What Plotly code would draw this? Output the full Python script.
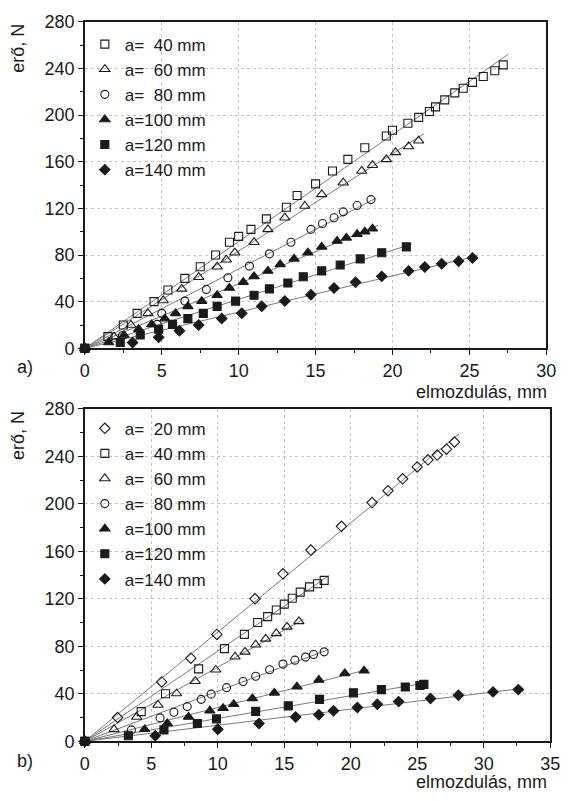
import numpy as np
import plotly.graph_objects as go

# ---------------- data: panel a) ----------------
a40_x = [0, 1.5, 2.5, 3.4, 4.5, 5.4, 6.5, 7.5, 8.5, 9.4, 10.0, 10.8, 11.8, 13.1, 13.8, 15.0, 16.1, 17.1, 18.2,
         19.6, 20.0, 21.0, 21.7, 22.4, 22.8, 23.4, 24.05, 24.6, 25.2, 25.9, 26.65, 27.2]
a40_y = [0, 10, 20, 30, 40, 50, 60, 70, 80, 91, 96, 102, 111, 121, 131, 141, 152, 162, 172,
         182, 187, 193, 198, 203, 207, 213, 219, 223, 228, 233, 238, 243]
a60_x = [0, 1.9, 3.0, 4.1, 5.1, 6.3, 7.4, 8.6, 9.2, 9.75, 11.0, 11.9, 13.0, 14.3, 15.4, 16.8, 18.0, 18.7,
         19.6, 20.2, 21.05, 21.7]
a60_y = [0, 10, 20, 30, 41, 51, 61, 70, 76, 82, 91, 102, 112, 122, 132, 142, 152, 157, 162, 168, 173, 178]
a80_x = [0, 2.45, 4.7, 5.0, 6.5, 7.9, 9.3, 10.7, 12.0, 13.4, 14.7, 15.45, 16.2, 16.8, 17.7, 18.6]
a80_y = [0, 11, 20.5, 30, 40.5, 50.5, 60.5, 70.5, 81, 91, 102, 107, 112, 117, 122.5, 127.5]
a100_x = [0, 1.55, 2.55, 3.5, 4.35, 5.2, 5.9, 6.7, 7.6, 8.6, 9.4, 10.3, 11.0, 11.9, 12.7, 13.6, 14.5, 15.4,
          16.4, 17.0, 17.7, 18.2, 18.7]
a100_y = [0, 5, 11.4, 16.4, 20.5, 25.5, 30, 36, 40.5, 45.5, 51.7, 56.7, 61.7, 66.4, 72, 76.7, 82, 87,
          92, 94.7, 97.8, 100, 102.5]
a120_x = [0, 2.3, 3.6, 4.8, 5.7, 6.7, 7.7, 8.6, 9.8, 11.0, 12.0, 13.2, 14.2, 15.4, 16.6, 17.9, 19.3, 20.9]
a120_y = [0, 5, 11.4, 16.4, 20.5, 25.5, 30, 36, 40.5, 45.5, 51, 56, 61.4, 66.4, 71.4, 76.7, 82, 87]
a140_x = [0, 3.1, 4.8, 6.15, 7.4, 8.9, 10.2, 11.5, 13.0, 14.7, 16.2, 17.6, 19.3, 21.05, 22.1, 23.2, 24.3, 25.2]
a140_y = [0, 5, 9.4, 15, 20, 25.5, 30, 36, 40.5, 46, 51.7, 56.7, 61.7, 66.4, 69.7, 72.5, 74.7, 77.5]

# ---------------- data: panel b) ----------------
b20_x = [0, 2.46, 5.78, 7.97, 9.93, 12.8, 14.9, 17.0, 19.3, 21.6, 22.8, 23.9, 25.0, 25.8, 26.5, 27.2, 27.8]
b20_y = [0, 20, 50, 70, 90, 120, 141, 161, 181, 201, 211, 221, 231, 237, 241, 246, 252]
b40_x = [0, 4.24, 6.07, 8.56, 10.5, 12.0, 13.0, 13.75, 14.4, 15.0, 15.6, 16.2, 16.9, 17.5, 18.0]
b40_y = [0, 25, 40, 61, 78, 90, 100, 105, 110.5, 115.5, 120.4, 125.6, 130, 132.7, 135.5]
b60_x = [0, 2.2, 3.9, 5.5, 6.9, 8.3, 9.85, 11.3, 12.05, 12.85, 13.6, 14.4, 15.2, 16.1]
b60_y = [0, 10, 20.5, 30.6, 40.2, 50.6, 60.2, 71.2, 75.3, 81.3, 86.2, 90.9, 96.3, 101]
b80_x = [0, 3.5, 5.66, 6.7, 7.7, 8.75, 9.5, 10.66, 11.9, 12.85, 13.9, 14.9, 15.8, 16.6, 17.2, 18.0]
b80_y = [0, 9.6, 19.7, 24.4, 29.2, 35.3, 39.7, 45.2, 50.3, 54.7, 60.2, 65, 68.3, 70.9, 73.1, 75.3]
b100_x = [0, 4.5, 6.2, 7.8, 9.4, 10.4, 11.2, 12.6, 14.25, 15.95, 17.6, 19.55, 21.0]
b100_y = [0, 10.1, 15, 20.5, 25.7, 27.9, 31.2, 36.1, 40.8, 46, 51.7, 57.2, 59.4]
b120_x = [0, 3.27, 5.95, 8.46, 9.9, 12.85, 15.3, 17.65, 20.2, 22.3, 24.1, 25.2, 25.5]
b120_y = [0, 4.7, 9.6, 15, 18.9, 25.2, 29.8, 35.3, 40.8, 43.5, 45.7, 47, 47.9]
b140_x = [0, 5.3, 10.0, 13.1, 15.85, 17.6, 18.7, 20.5, 22.0, 23.6, 26.0, 28.1, 30.7, 32.6]
b140_y = [0, 4.7, 10.1, 15, 20.4, 22.4, 25.7, 28.5, 31.2, 33.4, 36.1, 38.8, 41.6, 43.5]

labels_a = ["a=\u200740 mm", "a=\u200760 mm", "a=\u200780 mm", "a=100 mm", "a=120 mm", "a=140 mm"]
labels_b = ["a=\u200720 mm", "a=\u200740 mm", "a=\u200760 mm", "a=\u200780 mm", "a=100 mm", "a=120 mm", "a=140 mm"]

series_a = [(a40_x, a40_y), (a60_x, a60_y), (a80_x, a80_y), (a100_x, a100_y), (a120_x, a120_y), (a140_x, a140_y)]
series_b = [(b20_x, b20_y), (b40_x, b40_y), (b60_x, b60_y), (b80_x, b80_y), (b100_x, b100_y),
            (b120_x, b120_y), (b140_x, b140_y)]

symbols_a = ["square-open", "triangle-up-open", "circle-open", "triangle-up", "square", "diamond"]
symbols_b = ["diamond-open", "square-open", "triangle-up-open", "circle-open", "triangle-up", "square", "diamond"]

W, H = 568, 801
FONT = "Liberation Sans, Arial, sans-serif"
INK = "#1a1a1a"
LINE = "#7a7a7a"

fig = go.Figure()


def add_panel(series, labels, symbols, xa, ya, legend):
    # fitted lines through origin
    for (xs, ys) in series:
        x = np.array(xs, float)
        y = np.array(ys, float)
        k = float((x * y).sum() / (x * x).sum())
        xe = np.array([0.0, x.max() + 0.35])
        fig.add_trace(go.Scatter(x=xe, y=k * xe, mode="lines", xaxis=xa, yaxis=ya,
                                 line=dict(color=LINE, width=1), showlegend=False, hoverinfo="skip"))
    for (xs, ys), lab, sym in zip(series, labels, symbols):
        size = 9 if "triangle" in sym else 8
        fig.add_trace(go.Scatter(x=xs, y=ys, mode="markers", name=lab, xaxis=xa, yaxis=ya,
                                 legend=legend, cliponaxis=False,
                                 marker=dict(symbol=sym, size=size, color=INK,
                                             line=dict(color=INK, width=1.1))))


add_panel(series_a, labels_a, symbols_a, "x", "y", "legend")
add_panel(series_b, labels_b, symbols_b, "x2", "y2", "legend2")


def px_x(p):
    return p / W


def px_y(p):
    return 1 - p / H


axis_common = dict(
    showline=True, linecolor=INK, linewidth=1.5, mirror=True,
    ticks="outside", ticklen=5, tickwidth=1.2, tickcolor=INK,
    showgrid=True, gridcolor="#c4c4c4", griddash="dot", gridwidth=1,
    zeroline=False, tickfont=dict(family=FONT, size=18, color=INK),
)

fig.update_layout(
    width=W, height=H, autosize=False,
    margin=dict(l=0, r=0, t=0, b=0),
    paper_bgcolor="white", plot_bgcolor="white",
    font=dict(family=FONT, size=18, color=INK),
    xaxis=dict(domain=[px_x(82), px_x(556)], range=[0, 30], dtick=5, anchor="y",
               minor=dict(dtick=2.5, ticks="outside", ticklen=3, tickcolor=INK, showgrid=False),
               **axis_common),
    yaxis=dict(domain=[px_y(347), px_y(12)], range=[0, 280], dtick=40, anchor="x",
               minor=dict(dtick=20, ticks="outside", ticklen=3, tickcolor=INK, showgrid=False),
               **axis_common),
    xaxis2=dict(domain=[px_x(82), px_x(560)], range=[0, 35], dtick=5, anchor="y2",
                minor=dict(dtick=2.5, ticks="outside", ticklen=3, tickcolor=INK, showgrid=False),
                **axis_common),
    yaxis2=dict(domain=[px_y(750), px_y(409)], range=[0, 280], dtick=40, anchor="x2",
                minor=dict(dtick=20, ticks="outside", ticklen=3, tickcolor=INK, showgrid=False),
                **axis_common),
    legend=dict(x=px_x(82), y=px_y(17), xanchor="left", yanchor="top", bgcolor="rgba(0,0,0,0)",
                font=dict(family=FONT, size=17, color=INK), tracegroupgap=0, itemwidth=30),
    legend2=dict(x=px_x(82), y=px_y(411), xanchor="left", yanchor="top", bgcolor="rgba(0,0,0,0)",
                 font=dict(family=FONT, size=17, color=INK), tracegroupgap=0, itemwidth=30),
    showlegend=True,
)

ann = []
for ytop, xt_y, lab_y, lab in [(12, 392, 366, "a)"), (409, 792, 770, "b)")]:
    ann.append(dict(text="erő, N", x=px_x(14), y=px_y(ytop), xref="paper", yref="paper",
                    textangle=-90, xanchor="center", yanchor="top", showarrow=False,
                    font=dict(family=FONT, size=18, color=INK)))
    ann.append(dict(text="elmozdulás, mm", x=px_x(559), y=px_y(xt_y), xref="paper", yref="paper",
                    xanchor="right", yanchor="middle", showarrow=False,
                    font=dict(family=FONT, size=18, color=INK)))
    ann.append(dict(text=lab, x=px_x(10), y=px_y(lab_y), xref="paper", yref="paper",
                    xanchor="left", yanchor="middle", showarrow=False,
                    font=dict(family=FONT, size=18, color=INK)))
fig.update_layout(annotations=ann)

fig.write_html("out.html", config={"displayModeBar": False},
               post_script="document.body.style.margin='0';document.body.style.padding='0';")
